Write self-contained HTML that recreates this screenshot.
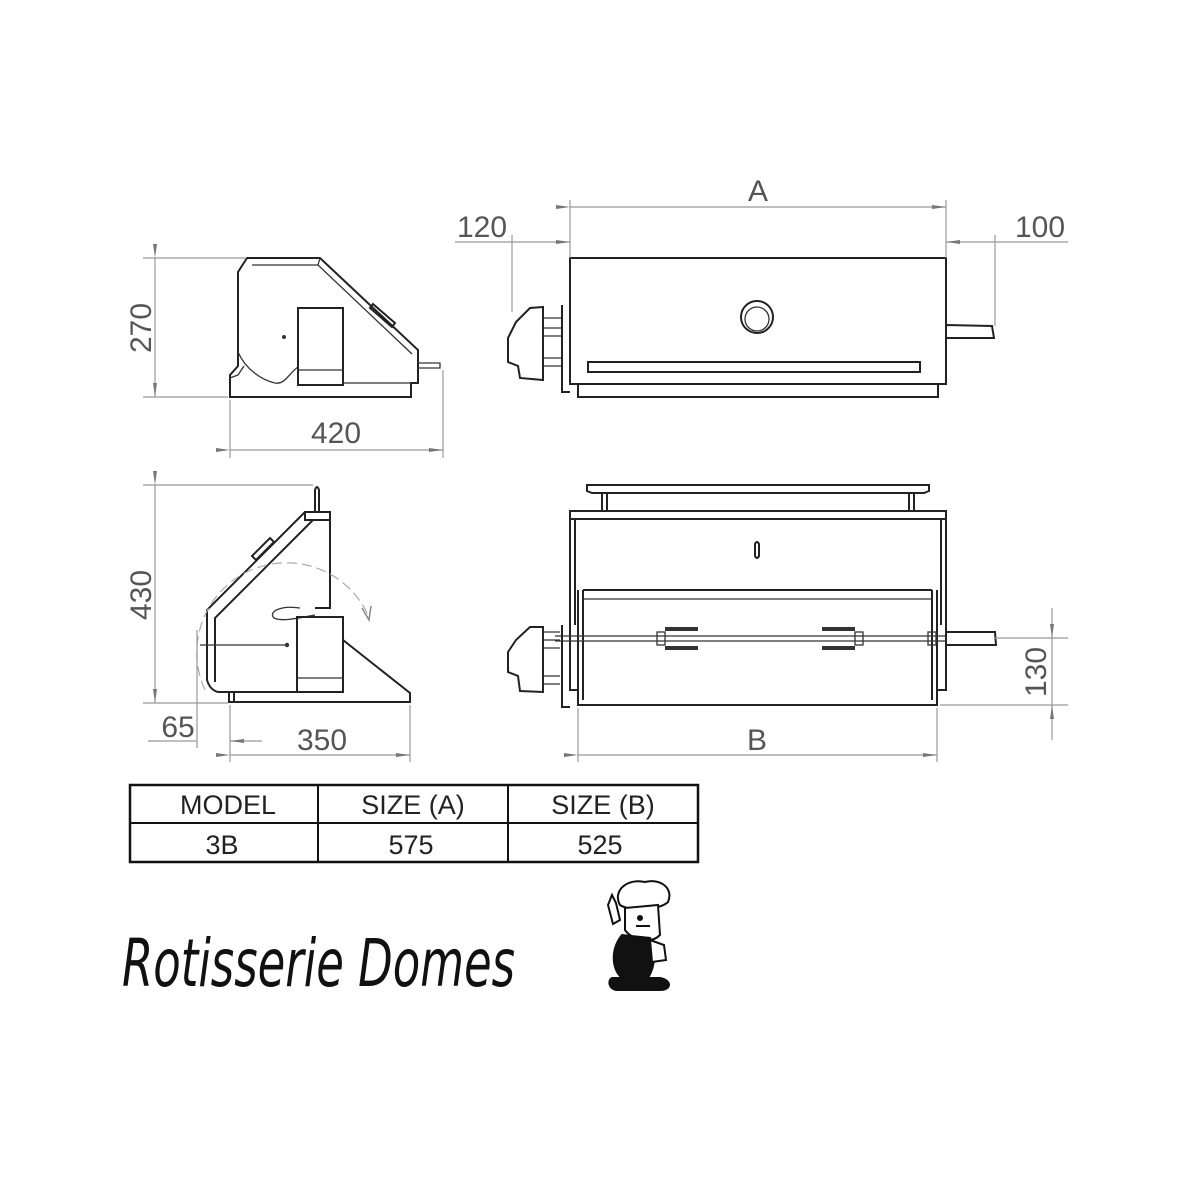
<!DOCTYPE html>
<html><head><meta charset="utf-8"><style>
html,body{margin:0;padding:0;background:#fff}
svg{display:block}
.o{fill:none;stroke:#222;stroke-width:2}
.t{fill:none;stroke:#333;stroke-width:1.3}
.d{fill:none;stroke:#999;stroke-width:1.2}
.dim{font-family:"Liberation Sans",sans-serif;font-size:30px;fill:#555}
.tb{font-family:"Liberation Sans",sans-serif;font-size:27px;fill:#222}
</style></head><body>
<svg width="1200" height="1200" viewBox="0 0 1200 1200" xmlns="http://www.w3.org/2000/svg">
<defs>
<marker id="ar" markerWidth="14" markerHeight="6" refX="14" refY="3" orient="auto" markerUnits="userSpaceOnUse"><path d="M0,1 L14,3 L0,5z" fill="#777"/></marker>
</defs>

<g>
<path class="o" d="M247,258 L320,258 L418,350 L418,383 L411,383 L411,397 L230,397 L230,375 L238,366 L238,272 Z"/>
<path class="t" d="M252,265 L318,265 L412,354"/>
<path class="t" d="M320,258 L318,265"/>
<path class="t" d="M238,352 C246,370 262,380 275,383 C285,385 290,372 298,367"/>
<path class="t" d="M230,378 L238,375 L244,366"/>
<rect class="o" x="298" y="308" width="45" height="77"/>
<line class="t" x1="298" y1="370" x2="343" y2="370"/>
<line class="t" x1="343" y1="383" x2="411" y2="383"/>
<circle cx="284" cy="337" r="2" fill="#333"/>
<path class="o" d="M373,304 L395,323 L392,327 L370,308 Z"/>
<path class="t" d="M418,368 L440,368 L440,363 L418,363"/>
<line class="d" x1="143" y1="258" x2="245" y2="258"/>
<line class="d" x1="143" y1="397" x2="228" y2="397"/>
<line class="d" x1="155" y1="258" x2="155" y2="397" marker-start="url(#ar)" marker-end="url(#ar)"/>
<text class="dim" transform="translate(151,328) rotate(-90)" text-anchor="middle">270</text>
<line class="d" x1="230" y1="400" x2="230" y2="458"/>
<line class="d" x1="443" y1="370" x2="443" y2="458"/>
<line class="d" x1="230" y1="450" x2="443" y2="450" marker-start="url(#ar)" marker-end="url(#ar)"/>
<text class="dim" x="336" y="443" text-anchor="middle">420</text>
</g>

<g>
<rect class="o" x="570" y="258" width="376" height="126"/>
<rect class="o" x="588" y="362" width="332" height="10"/>
<path class="o" d="M578,384 L578,397 L938,397 L938,384"/>
<circle class="o" cx="757" cy="317" r="16"/>
<circle class="t" cx="757" cy="319" r="12"/>
<path class="o" d="M543,307 L530,308 L516,322 L508,338 L508,362 L518,366 L520,378 L543,380 Z"/>
<path class="t" d="M543,318 L562,318 M543,328 L562,328 M543,336 L562,336 M543,358 L562,358 M543,366 L562,366"/>
<path class="o" d="M562,305 L562,392 L570,392"/>
<path class="o" d="M946,325 L992,326 L994,338 L946,338 Z"/>
<line class="d" x1="570" y1="200" x2="570" y2="258"/>
<line class="d" x1="946" y1="200" x2="946" y2="258"/>
<line class="d" x1="570" y1="207" x2="946" y2="207" marker-start="url(#ar)" marker-end="url(#ar)"/>
<text class="dim" x="758" y="201" text-anchor="middle">A</text>
<line class="d" x1="512" y1="235" x2="512" y2="312"/>
<line class="d" x1="455" y1="242" x2="512" y2="242"/>
<line class="d" x1="512" y1="242" x2="570" y2="242" marker-end="url(#ar)"/>
<text class="dim" x="482" y="237" text-anchor="middle">120</text>
<line class="d" x1="995" y1="235" x2="995" y2="326"/>
<line class="d" x1="995" y1="242" x2="1068" y2="242"/>
<line class="d" x1="995" y1="242" x2="946" y2="242" marker-end="url(#ar)"/>
<text class="dim" x="1040" y="237" text-anchor="middle">100</text>
</g>

<g>
<path class="o" d="M315,512 L315,490 Q317,484 319,490 L319,512"/>
<rect class="o" x="305" y="512" width="25" height="8"/>
<path class="o" d="M330,512 L330,608 L315,608"/>
<path class="o" d="M305,512 L207,610 L207,680 Q210,690 218,692 L297,692"/>
<path class="o" d="M313,520 L215,618 L215,682"/>
<path class="o" d="M252,556 L270,538 L274,542 L256,560 Z"/>
<path class="t" d="M300,608 C280,605 268,612 274,618 C282,622 298,618 315,615"/>
<rect class="o" x="297" y="617" width="46" height="75"/>
<line class="t" x1="297" y1="678" x2="343" y2="678"/>
<path class="o" d="M343,640 L410,693 L410,702 L230,702"/>
<path class="o" d="M229,692 L229,703 M234,692 L234,703"/>
<line class="t" x1="200" y1="645" x2="287" y2="645"/>
<circle cx="287" cy="645" r="2.2" fill="#333"/>
<path d="M205,690 A85,85 0 0 1 368,615" fill="none" stroke="#aaa" stroke-width="1.2" stroke-dasharray="10,5"/>
<path d="M362,608 L369,620 L371,606" fill="none" stroke="#888" stroke-width="1.5"/>
<line class="d" x1="143" y1="485" x2="313" y2="485"/>
<line class="d" x1="143" y1="703" x2="228" y2="703"/>
<line class="d" x1="155" y1="485" x2="155" y2="703" marker-start="url(#ar)" marker-end="url(#ar)"/>
<text class="dim" transform="translate(151,595) rotate(-90)" text-anchor="middle">430</text>
<line class="d" x1="197" y1="630" x2="197" y2="748"/>
<line class="d" x1="148" y1="741" x2="197" y2="741"/>
<line class="d" x1="262" y1="741" x2="230" y2="741" marker-end="url(#ar)"/>
<text class="dim" x="178" y="737" text-anchor="middle">65</text>
<line class="d" x1="230" y1="705" x2="230" y2="762"/>
<line class="d" x1="410" y1="705" x2="410" y2="762"/>
<line class="d" x1="230" y1="755" x2="410" y2="755" marker-start="url(#ar)" marker-end="url(#ar)"/>
<text class="dim" x="322" y="750" text-anchor="middle">350</text>
</g>

<g>
<path class="o" d="M587,485 L929,485 L929,491 L924,493 L592,493 L587,491 Z"/>
<path class="o" d="M602,493 L602,512 M607,493 L607,512 M909,493 L909,512 M914,493 L914,512"/>
<rect class="o" x="570" y="511" width="376" height="8"/>
<path class="o" d="M570,519 L570,690 L578,690 M575,519 L575,625"/>
<path class="o" d="M946,519 L946,690 L937,690 M941,519 L941,625"/>
<path class="o" d="M578,590 L578,705 L937,705 L937,590"/>
<path class="o" d="M583,590 L583,700 M932,590 L932,700"/>
<line class="o" x1="583" y1="590" x2="932" y2="590"/>
<line class="t" x1="583" y1="599" x2="932" y2="599"/>
<path class="o" d="M755,544 Q757,540 759,544 L759,556 Q757,560 755,556 Z"/>
<line class="t" x1="555" y1="636" x2="945" y2="636"/>
<line class="t" x1="555" y1="641" x2="945" y2="641"/>
<path class="o" d="M543,627 L530,627 L516,640 L508,652 L508,672 L518,676 L520,691 L543,692 Z"/>
<path class="t" d="M543,632 L560,632 M543,640 L560,640 M543,648 L560,648 M543,676 L560,676 M543,684 L560,684"/>
<path class="o" d="M562,625 L562,707 L570,707"/>
<path class="o" d="M946,632 L995,632 L996,645 L946,645 Z"/>
<g>
<rect x="665" y="627" width="33" height="4" fill="#333"/>
<rect x="665" y="646" width="33" height="4" fill="#333"/>
<rect class="t" x="657" y="632" width="8" height="13"/>
<rect x="822" y="627" width="33" height="4" fill="#333"/>
<rect x="822" y="646" width="33" height="4" fill="#333"/>
<rect class="t" x="855" y="632" width="8" height="13"/>
<rect class="t" x="928" y="632" width="8" height="13"/>
</g>
<line class="d" x1="578" y1="708" x2="578" y2="762"/>
<line class="d" x1="937" y1="708" x2="937" y2="762"/>
<line class="d" x1="578" y1="755" x2="937" y2="755" marker-start="url(#ar)" marker-end="url(#ar)"/>
<text class="dim" x="757" y="750" text-anchor="middle">B</text>
<line class="d" x1="940" y1="705" x2="1068" y2="705"/>
<line class="d" x1="995" y1="638" x2="1068" y2="638"/>
<line class="d" x1="1052" y1="608" x2="1052" y2="638" marker-end="url(#ar)"/>
<line class="d" x1="1052" y1="740" x2="1052" y2="705" marker-end="url(#ar)"/>
<line class="d" x1="1052" y1="638" x2="1052" y2="705"/>
<text class="dim" transform="translate(1046,672) rotate(-90)" text-anchor="middle">130</text>
</g>

<g>
<rect x="130" y="785" width="568" height="77" fill="none" stroke="#111" stroke-width="2.5"/>
<line x1="130" y1="823" x2="698" y2="823" stroke="#111" stroke-width="2"/>
<line x1="318" y1="785" x2="318" y2="862" stroke="#111" stroke-width="2"/>
<line x1="508" y1="785" x2="508" y2="862" stroke="#111" stroke-width="2"/>
<text class="tb" x="228" y="814" text-anchor="middle">MODEL</text>
<text class="tb" x="413" y="814" text-anchor="middle">SIZE (A)</text>
<text class="tb" x="603" y="814" text-anchor="middle">SIZE (B)</text>
<text class="tb" x="222" y="854" text-anchor="middle">3B</text>
<text class="tb" x="411" y="854" text-anchor="middle">575</text>
<text class="tb" x="600" y="854" text-anchor="middle">525</text>
</g>

<text x="0" y="0" font-family="'DejaVu Sans','Liberation Sans',sans-serif" font-size="66" font-style="italic" fill="#111" textLength="393" lengthAdjust="spacingAndGlyphs" transform="translate(122,986)">Rotisserie Domes</text>

<g stroke="#111" stroke-width="2" fill="#fff">
<path d="M620,905 C612,890 628,878 645,882 C660,878 674,888 668,902 C660,910 630,912 620,905 Z"/>
<path d="M625,908 L658,905 L660,935 C650,945 632,940 625,930 Z"/>
<path d="M608,905 L612,895 L616,903 L620,920 L613,924 Z"/>
<path d="M622,935 C610,950 612,970 622,978 L648,978 C656,965 656,948 650,938 Z" fill="#111"/>
<path d="M650,940 L664,945 L666,960 L652,962 Z"/>
<path d="M612,978 L660,978 C672,980 672,990 660,990 L616,990 C608,988 608,980 612,978 Z" fill="#111"/>
<circle cx="640" cy="918" r="2" fill="#111"/>
<path d="M636,926 L650,926" />
</g>
</svg>
</body></html>
